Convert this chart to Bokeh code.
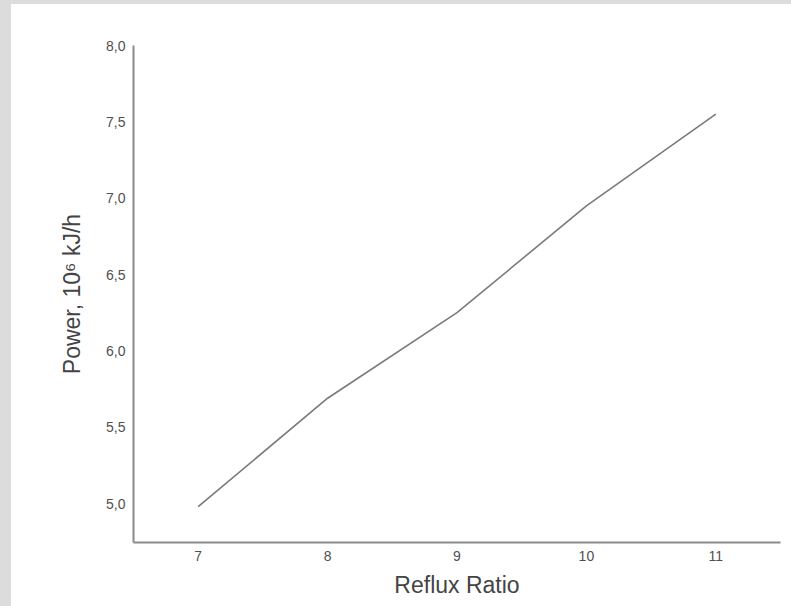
from bokeh.plotting import figure
from bokeh.layouts import column
from bokeh.models import Range1d, FixedTicker, CustomJSTickFormatter
from bokeh.embed import file_html
from bokeh.resources import INLINE

reflux_ratio = [7, 8, 9, 10, 11]
power = [4.98, 5.69, 6.25, 6.95, 7.55]
x_ticks = [7, 8, 9, 10, 11]
y_ticks = [5.0, 5.5, 6.0, 6.5, 7.0, 7.5, 8.0]

p = figure(width=780, height=602, output_backend="svg", toolbar_location=None,
           x_range=Range1d(6.5, 11.5), y_range=Range1d(4.745, 8.0),
           min_border_left=122, min_border_right=11, min_border_top=41, min_border_bottom=64)
p.margin = (4, 0, 0, 11)
p.styles = {"background-color": "white"}
p.outline_line_color = None
p.xgrid.visible = False
p.ygrid.visible = False
p.background_fill_color = "white"
p.border_fill_color = "white"

p.line(reflux_ratio, power, line_color="#7a7a7a", line_width=1.6)

for ax in (p.xaxis[0], p.yaxis[0]):
    ax.axis_line_color = "#8a8a8a"
    ax.axis_line_width = 2
    ax.major_tick_line_color = None
    ax.minor_tick_line_color = None
    ax.major_label_text_font = "Liberation Sans"
    ax.major_label_text_font_size = "14px"
    ax.major_label_text_color = "#505050"
    ax.axis_label_text_font = "Liberation Sans"
    ax.axis_label_text_font_size = "23px"
    ax.axis_label_text_font_style = "normal"
    ax.axis_label_text_color = "#444444"

p.xaxis.major_label_standoff = 2
p.yaxis.major_label_standoff = 2
p.xaxis.ticker = FixedTicker(ticks=x_ticks)
p.yaxis.ticker = FixedTicker(ticks=y_ticks)
p.yaxis.formatter = CustomJSTickFormatter(code="return tick.toFixed(1).replace('.', ',');")
p.xaxis.axis_label = "Reflux Ratio"
p.yaxis.axis_label = "Power, 10\u2076 kJ/h"
p.xaxis.axis_label_standoff = 8
p.yaxis.axis_label_standoff = 18

layout = column(p, styles={"background-color": "#dcdcdc"})

open("out.html", "w").write(file_html(layout, INLINE))
